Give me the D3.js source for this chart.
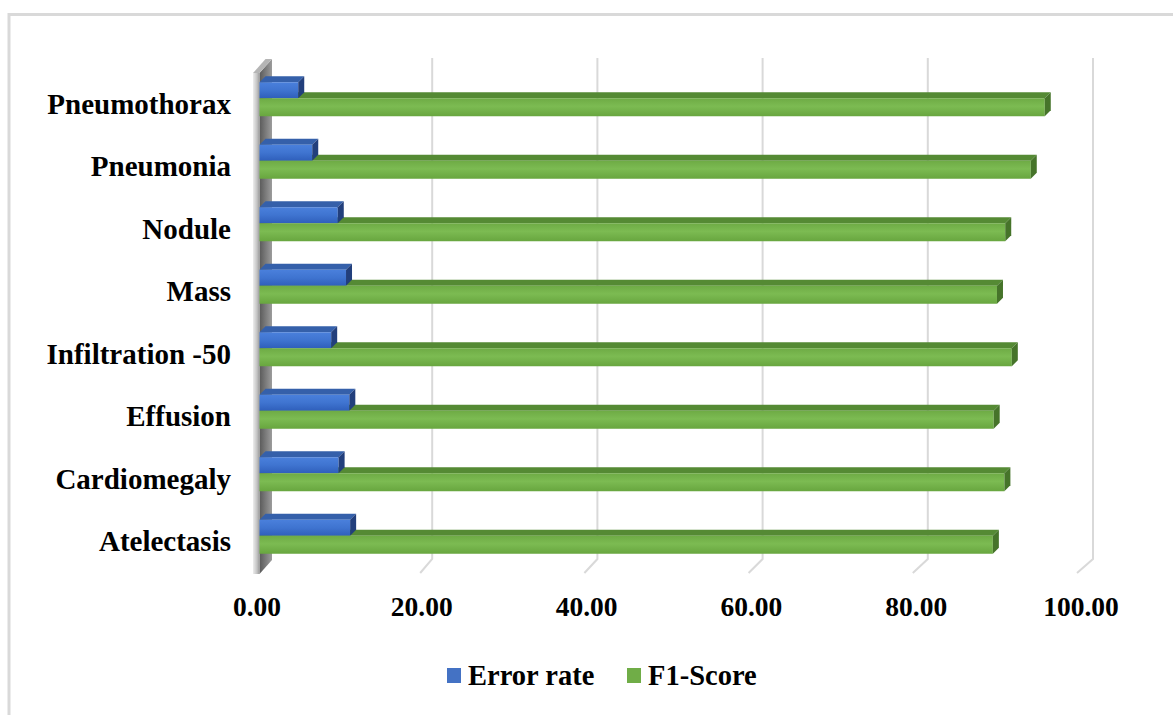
<!DOCTYPE html>
<html><head><meta charset="utf-8">
<script src="https://cdn.jsdelivr.net/npm/d3@7"></script>
<style>
html,body{margin:0;padding:0;background:#fff;}
svg{display:block;}
text{font-family:"Liberation Serif","Times New Roman",serif;font-weight:bold;fill:#000;}
</style></head><body>
<svg id="chart" width="1173" height="715"></svg>
<script>
// Per-class results (bottom to top on the chart)
const categories = ["Atelectasis", "Cardiomegaly", "Effusion", "Infiltration -50", "Mass", "Nodule", "Pneumonia", "Pneumothorax"];
const errorRate = [11.0, 9.6, 10.9, 8.7, 10.5, 9.5, 6.4, 4.7];
const f1Score   = [89.0, 90.4, 89.1, 91.3, 89.5, 90.5, 93.6, 95.3];
const seriesNames = ["Error rate", "F1-Score"];
const xTicks = [0, 20, 40, 60, 80, 100];

const svg = d3.select("#chart");
const D = 6; // bar depth offset

// frame
svg.append("rect").attr("x", 9).attr("y", 14.5).attr("width", 1300).attr("height", 900)
  .attr("fill", "none").attr("stroke", "#d9d9d9").attr("stroke-width", 3);

// scales: bar front plane, back wall, and floor front edge
const x = d3.scaleLinear().domain([0, 100]).range([259.5, 1083.5]);
const xBack = x.copy().range([267, 1093]);
const xFloor = x.copy().range([256, 1077]);
const y = d3.scaleBand().domain(categories.slice().reverse()).range([68, 568]);

const defs = svg.append("defs");
function vGrad(id, stops) {
  const g = defs.append("linearGradient").attr("id", id).attr("x1", 0).attr("y1", 0).attr("x2", 0).attr("y2", 1);
  stops.forEach(s => g.append("stop").attr("offset", s[0]).attr("stop-color", s[1]));
}
function hGrad(id, stops) {
  const g = defs.append("linearGradient").attr("id", id).attr("x1", 0).attr("y1", 0).attr("x2", 1).attr("y2", 0);
  stops.forEach(s => g.append("stop").attr("offset", s[0]).attr("stop-color", s[1]));
}
vGrad("blueFront", [[0, "#4a80dc"], [0.5, "#3f74d0"], [1, "#2f5fbb"]]);
vGrad("greenFront", [[0, "#6eab45"], [0.45, "#7cbb52"], [1, "#68a63f"]]);
hGrad("wallFront", [[0, "#ededed"], [0.6, "#c4c4c4"], [1, "#9a9a9a"]]);
hGrad("wallInner", [[0, "#5a5a5a"], [1, "#9c9c9c"]]);

// gridlines on the back wall, folding down to the floor edge
const grid = svg.append("g");
xTicks.filter(v => v > 0).forEach(v => {
  grid.append("path")
    .attr("d", `M${xBack(v)},58 L${xBack(v)},559 L${xFloor(v)},573`)
    .attr("fill", "none").attr("stroke", "#d9d9d9").attr("stroke-width", 2);
});

// left side wall
const wall = svg.append("g");
wall.append("path").attr("d", "M259.5,73 L272,59 L272,560 L259.5,574 Z").attr("fill", "url(#wallInner)");
wall.append("path").attr("d", "M253,73 L259.5,73 L272,59 L265.5,59 Z").attr("fill", "#b5b5b5");
wall.append("rect").attr("x", 253).attr("y", 73).attr("width", 6.5).attr("height", 501).attr("fill", "url(#wallFront)");

const colors = {
  blue: { top: "#3560aa", side: "#223f7c", front: "url(#blueFront)" },
  green: { top: "#558a34", side: "#46742a", front: "url(#greenFront)" }
};
function topFace(g, x0, x1, yt, c) {
  g.append("path").attr("d", `M${x0},${yt} L${x0 + D},${yt - D} L${x1 + D},${yt - D} L${x1},${yt} Z`).attr("fill", c.top);
}
function frontSide(g, x0, x1, yt, h, c) {
  g.append("rect").attr("x", x0).attr("y", yt).attr("width", x1 - x0).attr("height", h).attr("fill", c.front);
  g.append("path").attr("d", `M${x1},${yt} L${x1 + D},${yt - D} L${x1 + D},${yt + h - D} L${x1},${yt + h} Z`).attr("fill", c.side);
}

const bars = svg.append("g");
categories.slice().reverse().forEach(cat => {
  const i = categories.indexOf(cat);
  const b = y(cat) + y.bandwidth() / 2 - 1;
  const g = bars.append("g");
  const xe = x(errorRate[i]), xf = x(f1Score[i]);
  topFace(g, x(0), xf, b, colors.green);
  topFace(g, x(0), xe, b - 16, colors.blue);
  frontSide(g, x(0), xe, b - 16, 16, colors.blue);
  frontSide(g, x(0), xf, b, 18, colors.green);
});

// category labels
const yAxis = d3.axisLeft(y).tickSize(0).tickPadding(0);
const ya = svg.append("g").attr("transform", "translate(231,5)").call(yAxis);
ya.select(".domain").remove();
ya.selectAll("text").attr("font-size", 29).attr("font-family", null).attr("fill", "#000");

// value axis labels
const xAxis = d3.axisBottom(x).tickValues(xTicks).tickFormat(d3.format(".2f")).tickSize(0).tickPadding(0);
const xa = svg.append("g").attr("transform", "translate(-3,596)").call(xAxis);
xa.select(".domain").remove();
xa.selectAll("text").attr("font-size", 27.5).attr("font-family", null).attr("fill", "#000").attr("dy", "0.72em");

// legend
const legend = svg.append("g");
const lx = [447, 627];
const lc = ["#4472c4", "#70ad47"];
seriesNames.forEach((name, k) => {
  legend.append("rect").attr("x", lx[k]).attr("y", 668).attr("width", 14).attr("height", 15).attr("fill", lc[k]);
  legend.append("text").attr("x", lx[k] + 21).attr("y", 685).attr("font-size", 28.5).text(name);
});
</script>
</body></html>
